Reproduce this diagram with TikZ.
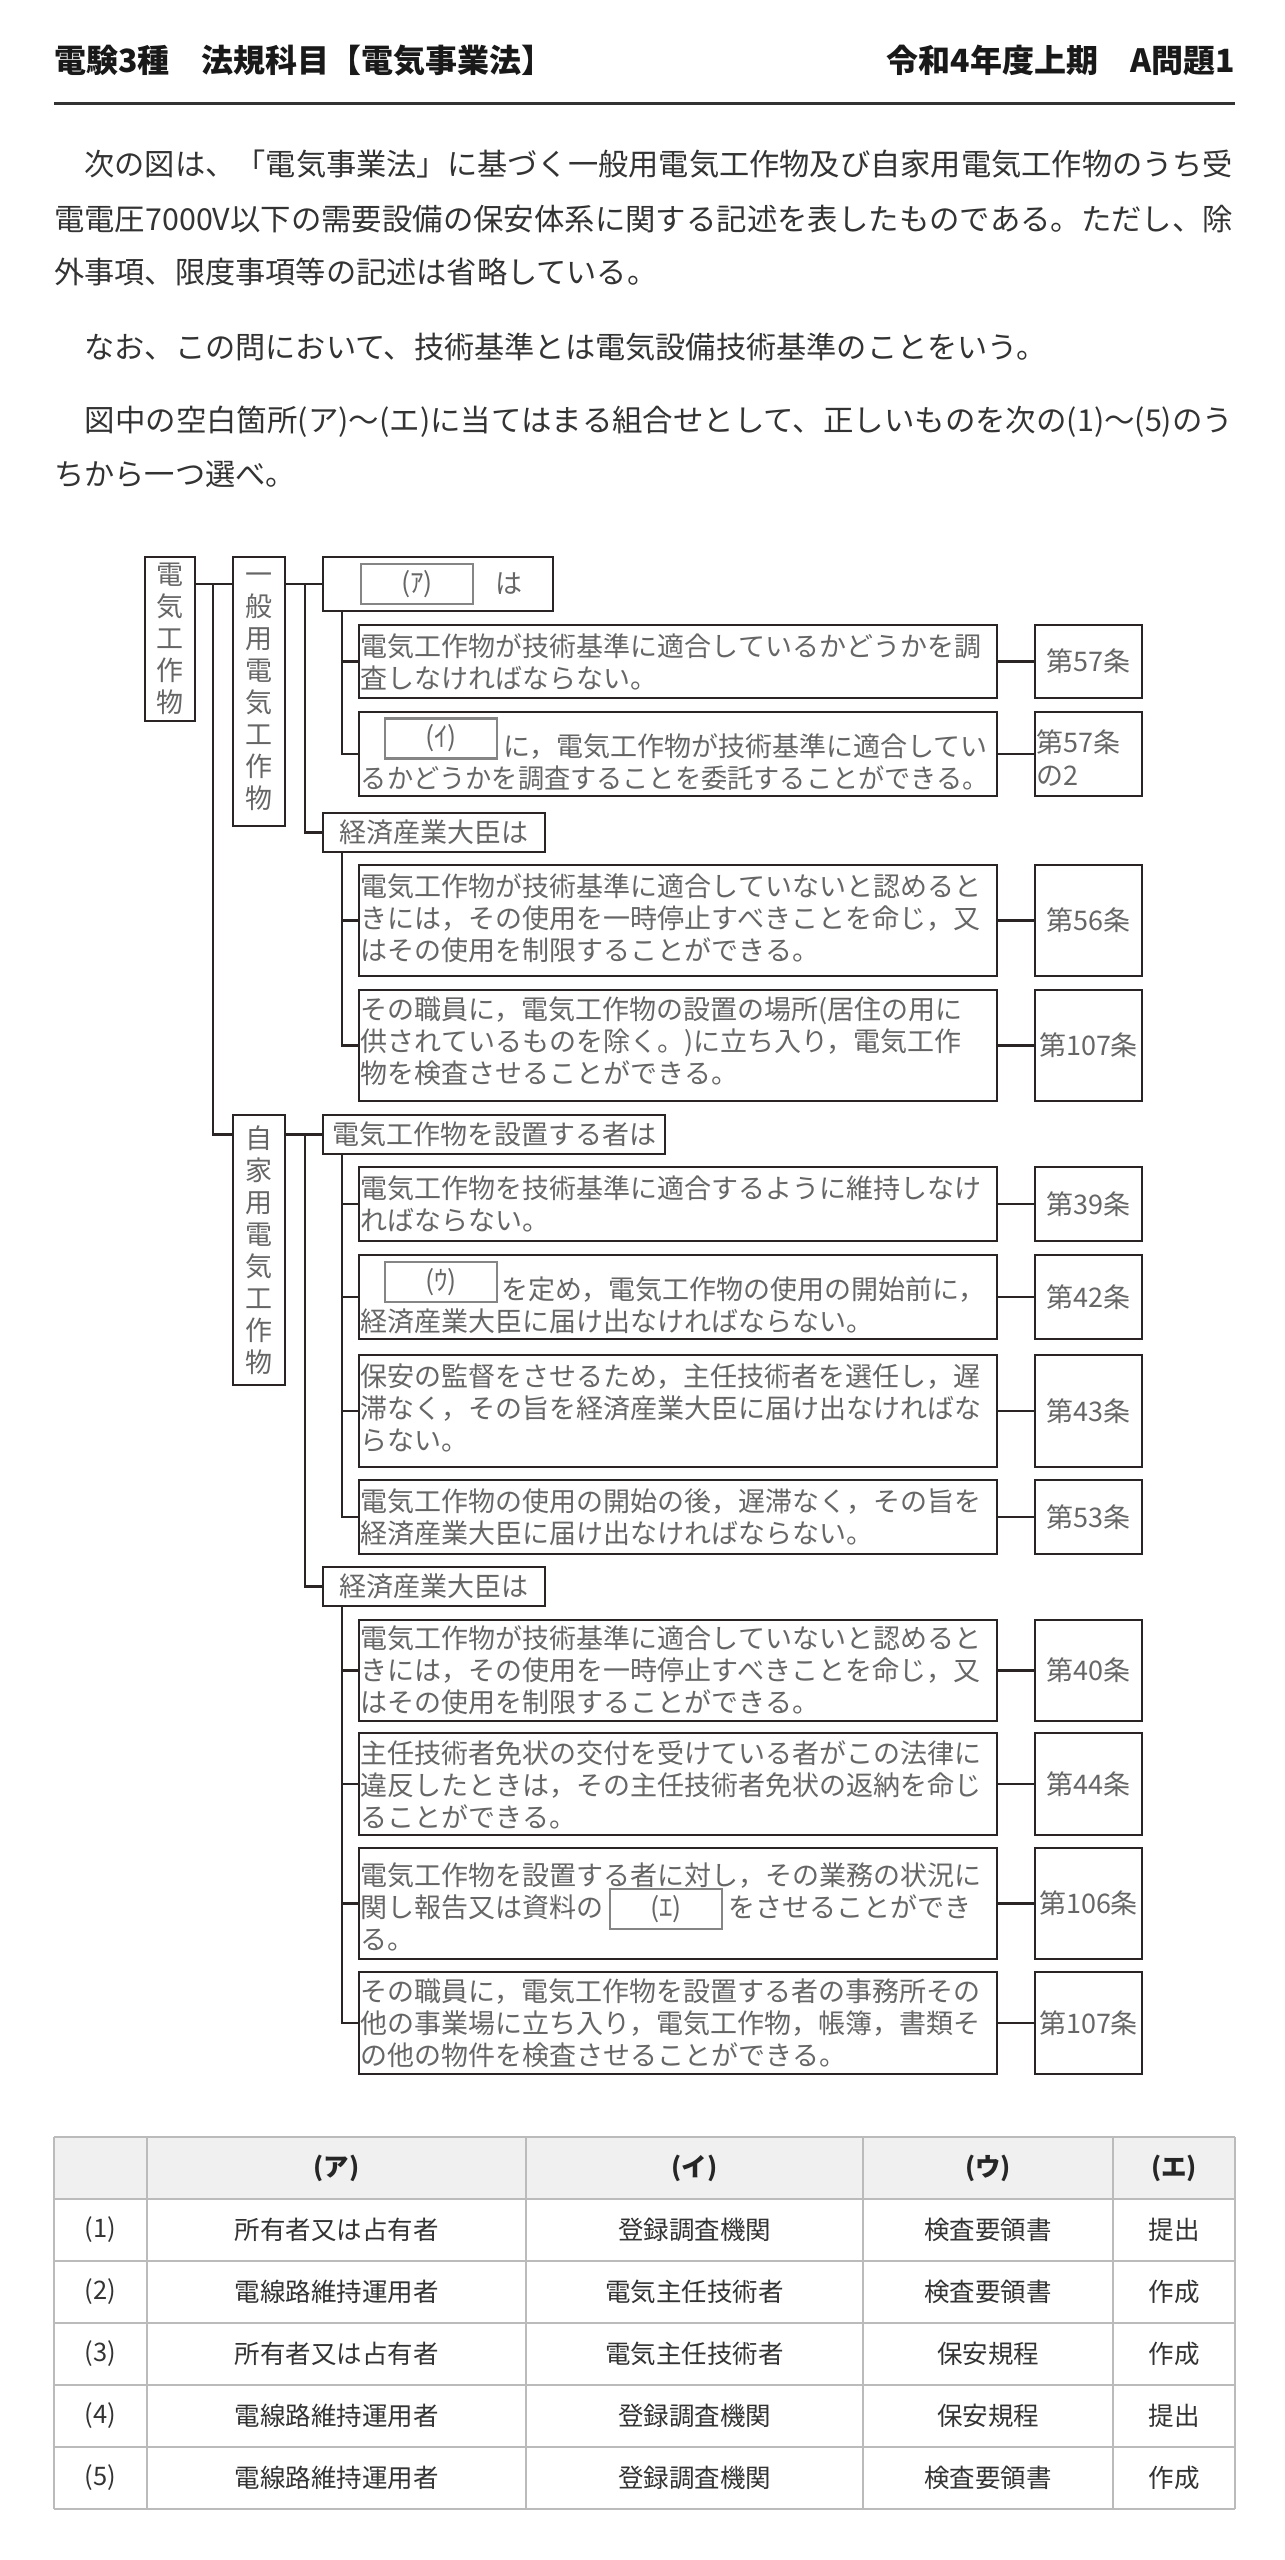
\documentclass[tikz,border=0pt]{standalone}
\usepackage{fontspec}
\usepackage{graphicx}
\setmainfont{Noto Sans CJK JP}
\usetikzlibrary{calc}
\definecolor{pcol}{HTML}{333333}
\definecolor{dcol}{HTML}{666666}
\definecolor{lcol}{HTML}{2B2424}
\definecolor{icol}{HTML}{858585}
\definecolor{gcol}{HTML}{BBBBBB}
\definecolor{hcol}{HTML}{F0F0F0}
\newsavebox\jbox
\newcommand\jline[2]{\sbox\jbox{#2}\pgfmathsetmacro\jscale{#1/\wd\jbox}\scalebox{\jscale}[1]{\usebox\jbox}}
\begin{document}
\begin{tikzpicture}[x=1pt,y=-1pt,
  ptxt/.style={anchor=west,inner sep=0pt,font=\fontsize{30.2}{36}\selectfont,text=pcol,text height=26.6pt,text depth=3.6pt},
  ttl/.style={inner sep=0pt,font=\fontsize{32}{38}\selectfont\bfseries,text=black!90,text height=28.2pt,text depth=3.8pt},
  dframe/.style={draw=lcol,line width=2.6pt,fill=white,inner sep=0pt},
  vbox/.style={dframe,minimum width=50pt,align=center,font=\fontsize{27}{32}\selectfont,text=dcol},
  hbox/.style={dframe,minimum height=39pt,font=\fontsize{27}{32}\selectfont,text=dcol},
  bbox/.style={dframe,minimum width=638pt},
  abox/.style={dframe,minimum width=107pt,font=\fontsize{27}{32}\selectfont,text=dcol},
  btxt/.style={anchor=west,inner sep=0pt,text width=632pt,align=left,font=\fontsize{27}{32}\selectfont,text=dcol},
  blankbox/.style={draw=icol,line width=2.2pt,fill=white,minimum width=112pt,minimum height=40pt,inner sep=0pt,font=\fontsize{27}{32}\selectfont,text=dcol},
  conn/.style={draw=lcol,line width=2.6pt},
  tcell/.style={inner sep=0pt,font=\fontsize{25.5}{30}\selectfont,text=pcol},
  thead/.style={tcell,font=\fontsize{25.5}{30}\selectfont\bfseries,text=black!85},
  tgrid/.style={draw=gcol,line width=1.6pt}
]
\useasboundingbox (0,0) rectangle (1285,2560);
\fill[white] (0,0) rectangle (1285,2560);

% header
\node[ttl,anchor=west] (title) at (54,60) {電験3種　法規科目【電気事業法】};
\node[ttl,anchor=east] (qid) at (1235,60) {令和4年度上期　A問題1};
\coordinate (rl) at (54,103);
\coordinate (rr) at (1235,103);
\draw[line width=3pt,draw=black!80] (rl) -- (rr);

% paragraph
\node[ptxt] (p1) at (54,164) {\jline{1179}{　次の図は、「電気事業法」に基づく一般用電気工作物及び自家用電気工作物のうち受}};
\node[ptxt] (p2) at (54,219) {\jline{1179}{電電圧7000V以下の需要設備の保安体系に関する記述を表したものである。ただし、除}};
\node[ptxt] (p3) at (54,272) {外事項、限度事項等の記述は省略している。};
\node[ptxt] (p4) at (54,347) {　なお、この問において、技術基準とは電気設備技術基準のことをいう。};
\node[ptxt] (p5) at (54,420) {\jline{1179}{　図中の空白箇所(ア)～(エ)に当てはまる組合せとして、正しいものを次の(1)～(5)のう}};
\node[ptxt] (p6) at (54,474) {ちから一つ選べ。};

% vertical label boxes
\node[vbox,minimum height=164pt] (v0) at (170,639) {電\\気\\工\\作\\物};
\node[vbox,minimum width=52pt,minimum height=269pt] (v1) at (259,691.5) {一\\般\\用\\電\\気\\工\\作\\物};
\node[vbox,minimum width=52pt,minimum height=270pt] (v2) at (259,1250) {自\\家\\用\\電\\気\\工\\作\\物};

% heading boxes
\node[dframe,minimum width=230pt,minimum height=54pt] (pA) at (438,584) {};
\node[blankbox] (xA) at (417,584) {(ｱ)};
\node[inner sep=0pt,font=\fontsize{27}{32}\selectfont,text=dcol] (ha) at (509,584) {は};
\node[hbox,minimum width=222pt] (k1) at (434,832.5) {経済産業大臣は};
\node[hbox,minimum width=342pt] (s1) at (494,1134.5) {電気工作物を設置する者は};
\node[hbox,minimum width=222pt] (k2) at (434,1586.5) {経済産業大臣は};

% body boxes
\node[bbox,minimum height=73pt] (b1) at (678,661.5) {};
\node[btxt] (b1t) at ($(b1.west)+(3,0)$) {電気工作物が技術基準に適合しているかどうかを調\\査しなければならない。};
\node[bbox,minimum height=84pt] (b2) at (678,754) {};
\node[btxt] (b2t) at ($(b2.west)+(3,8)$) {\hspace*{143pt}に，電気工作物が技術基準に適合してい\\\scalebox{0.97}[1]{るかどうかを調査することを委託することができる。}};
\node[blankbox] (xB) at (441,738.5) {(ｲ)};
\node[bbox,minimum height=111pt] (b3) at (678,920.5) {};
\node[btxt] (b3t) at ($(b3.west)+(3,-2)$) {電気工作物が技術基準に適合していないと認めると\\きには，その使用を一時停止すべきことを命じ，又\\はその使用を制限することができる。};
\node[bbox,minimum height=111pt] (b4) at (678,1045.5) {};
\node[btxt] (b4t) at ($(b4.west)+(3,-4)$) {その職員に，電気工作物の設置の場所(居住の用に\\供されているものを除く。)に立ち入り，電気工作\\物を検査させることができる。};

\node[bbox,minimum height=74pt] (bA) at (678,1204) {};
\node[btxt] (bAt) at ($(bA.west)+(3,0)$) {電気工作物を技術基準に適合するように維持しなけ\\ればならない。};
\node[bbox,minimum height=84pt] (bB) at (678,1297) {};
\node[btxt] (bBt) at ($(bB.west)+(3,8)$) {\hspace*{141pt}を定め，電気工作物の使用の開始前に，\\経済産業大臣に届け出なければならない。};
\node[blankbox] (xC) at (441,1282) {(ｳ)};
\node[bbox,minimum height=112pt] (bC) at (678,1411) {};
\node[btxt] (bCt) at ($(bC.west)+(3,-3)$) {保安の監督をさせるため，主任技術者を選任し，遅\\滞なく，その旨を経済産業大臣に届け出なければな\\らない。};
\node[bbox,minimum height=74pt] (bD) at (678,1517) {};
\node[btxt] (bDt) at ($(bD.west)+(3,0)$) {電気工作物の使用の開始の後，遅滞なく，その旨を\\経済産業大臣に届け出なければならない。};

\node[bbox,minimum height=101pt] (bE) at (678,1670.5) {};
\node[btxt] (bEt) at ($(bE.west)+(3,0)$) {電気工作物が技術基準に適合していないと認めると\\きには，その使用を一時停止すべきことを命じ，又\\はその使用を制限することができる。};
\node[bbox,minimum height=102pt] (bF) at (678,1784) {};
\node[btxt] (bFt) at ($(bF.west)+(3,1)$) {主任技術者免状の交付を受けている者がこの法律に\\違反したときは，その主任技術者免状の返納を命じ\\ることができる。};
\node[bbox,minimum height=111pt] (bG) at (678,1903.5) {};
\node[btxt] (bGt) at ($(bG.west)+(3,3)$) {電気工作物を設置する者に対し，その業務の状況に\\関し報告又は資料の\hspace{125pt}をさせることができ\\る。};
\node[blankbox] (xD) at (666,1909) {(ｴ)};
\node[bbox,minimum height=102pt] (bH) at (678,2023) {};
\node[btxt] (bHt) at ($(bH.west)+(3,0)$) {その職員に，電気工作物を設置する者の事務所その\\他の事業場に立ち入り，電気工作物，帳簿，書類そ\\の他の物件を検査させることができる。};

% article boxes
\node[abox,minimum height=73pt] (a1) at (1088.5,661.5) {第57条};
\node[abox,minimum height=84pt] (a2) at (1088.5,754) {};
\node[anchor=west,inner sep=0pt,align=left,font=\fontsize{27}{33}\selectfont,text=dcol] (a2t) at ($(a2.west)+(3,4)$) {第57条\\の2};
\node[abox,minimum height=111pt] (a3) at (1088.5,920.5) {第56条};
\node[abox,minimum height=111pt] (a4) at (1088.5,1045.5) {第107条};
\node[abox,minimum height=74pt] (aA) at (1088.5,1204) {第39条};
\node[abox,minimum height=84pt] (aB) at (1088.5,1297) {第42条};
\node[abox,minimum height=112pt] (aC) at (1088.5,1411) {第43条};
\node[abox,minimum height=74pt] (aD) at (1088.5,1517) {第53条};
\node[abox,minimum height=101pt] (aE) at (1088.5,1670.5) {第40条};
\node[abox,minimum height=102pt] (aF) at (1088.5,1784) {第44条};
\node[abox,minimum height=111pt] (aG) at (1088.5,1903.5) {第106条};
\node[abox,minimum height=102pt] (aH) at (1088.5,2023) {第107条};

% tree connectors
\coordinate (t0) at (213,0);
\coordinate (t1) at (305,0);
\coordinate (t2) at (342,0);
\draw[conn] (v0.east |- pA.west) -- (v1.west |- pA.west);
\draw[conn] (v1.east |- pA.west) -- (pA.west);
\draw[conn] (t0 |- pA.west) -- (t0 |- s1.west) -- (v2.west |- s1.west);
\draw[conn] (v2.east |- s1.west) -- (s1.west);
\draw[conn] (t1 |- pA.west) -- (t1 |- k1.west) -- (k1.west);
\draw[conn] (t1 |- s1.west) -- (t1 |- k2.west) -- (k2.west);

\draw[conn] (t2 |- pA.south) -- (t2 |- b2.west) -- (b2.west);
\draw[conn] (t2 |- b1.west) -- (b1.west);
\draw[conn] (t2 |- k1.south) -- (t2 |- b4.west) -- (b4.west);
\draw[conn] (t2 |- b3.west) -- (b3.west);
\draw[conn] (t2 |- s1.south) -- (t2 |- bD.west) -- (bD.west);
\draw[conn] (t2 |- bA.west) -- (bA.west);
\draw[conn] (t2 |- bB.west) -- (bB.west);
\draw[conn] (t2 |- bC.west) -- (bC.west);
\draw[conn] (t2 |- k2.south) -- (t2 |- bH.west) -- (bH.west);
\draw[conn] (t2 |- bE.west) -- (bE.west);
\draw[conn] (t2 |- bF.west) -- (bF.west);
\draw[conn] (t2 |- bG.west) -- (bG.west);

\foreach \bx/\ax in {b1/a1,b2/a2,b3/a3,b4/a4,bA/aA,bB/aB,bC/aC,bD/aD,bE/aE,bF/aF,bG/aG,bH/aH}
  \draw[conn] (\bx.east) -- (\ax.west);

% table
\fill[hcol] (54,2137) rectangle (1235,2199);
\foreach \yy in {2137,2199,2261,2323,2385,2447,2509}
  \draw[tgrid] (54,\yy) -- (1235,\yy);
\foreach \xx in {54,147,526,863,1113,1235}
  \draw[tgrid] (\xx,2137) -- (\xx,2509);
\foreach \hd/\cx [count=\j] in {(ア)/336.5,(イ)/694.5,(ウ)/988,(エ)/1174}
  \node[thead] (h\j) at (\cx,2168) {\hd};
\foreach \ra/\rb/\rc/\rd [count=\i] in {所有者又は占有者/登録調査機関/検査要領書/提出,電線路維持運用者/電気主任技術者/検査要領書/作成,所有者又は占有者/電気主任技術者/保安規程/作成,電線路維持運用者/登録調査機関/保安規程/提出,電線路維持運用者/登録調査機関/検査要領書/作成}{
  \pgfmathsetmacro\ry{2168+62*\i}
  \node[tcell] (r\i-0) at (100.5,\ry) {(\i)};
  \node[tcell] (r\i-1) at (336.5,\ry) {\ra};
  \node[tcell] (r\i-2) at (694.5,\ry) {\rb};
  \node[tcell] (r\i-3) at (988,\ry) {\rc};
  \node[tcell] (r\i-4) at (1174,\ry) {\rd};
}
\end{tikzpicture}
\end{document}
